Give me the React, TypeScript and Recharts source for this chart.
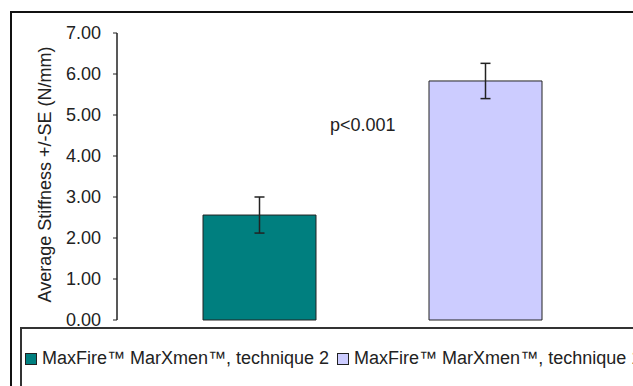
import React from 'react';
import { BarChart, Bar, XAxis, YAxis, ErrorBar } from 'recharts';

const seriesNames = ['MaxFire™ MarXmen™, technique 2', 'MaxFire™ MarXmen™, technique 1'];
const seriesKeys = ['t2', 't1'];
const means = [2.56, 5.83];
const stdErrors = [0.44, 0.43];
const yTicks = [0, 1, 2, 3, 4, 5, 6, 7];
const colors = ['#007f7f', '#ccccff'];

const FONT = '"Liberation Sans", Arial, sans-serif';

// single category, one bar per series
const row: Record<string, number | string> = { name: '' };
seriesKeys.forEach((k, i) => {
  row[k] = means[i];
  row[k + 'Err'] = stdErrors[i];
});
const chartData = [row];

const YLabel = ({ viewBox }: any) => {
  const cx = viewBox.x - 12;
  const cy = viewBox.y + viewBox.height / 2 - 2;
  return (
    <text
      x={cx}
      y={cy}
      transform={`rotate(-90 ${cx} ${cy})`}
      textAnchor="middle"
      dominantBaseline="central"
      fill="#222"
      fontSize={18}
      fontFamily={FONT}
    >
      Average Stiffness +/-SE (N/mm)
    </text>
  );
};

export default function App() {
  return (
    <div style={{ position: 'absolute', left: 0, top: 0, width: 633, height: 386, overflow: 'hidden', background: '#fff', fontFamily: FONT }}>
      <div style={{ position: 'absolute', left: 10, top: 11, width: 700, height: 420, border: '2px solid #111' }} />
      <BarChart
        width={633}
        height={386}
        data={chartData}
        margin={{ top: 33, right: 5, left: 57, bottom: 66 }}
        barSize={113}
        barGap={113}
        style={{ position: 'absolute', left: 0, top: 0 }}
      >
        <XAxis dataKey="name" tick={false} tickLine={false} height={0} axisLine={{ stroke: '#222', strokeWidth: 1.5 }} />
        <YAxis
          width={60}
          domain={[0, 7]}
          ticks={yTicks}
          interval={0}
          tickFormatter={(v: number) => v.toFixed(2)}
          tickSize={4}
          tickMargin={12}
          tick={{ fill: '#222', fontSize: 18, fontFamily: FONT }}
          tickLine={{ stroke: '#222' }}
          axisLine={{ stroke: '#222', strokeWidth: 1.5 }}
          label={<YLabel />}
        />
        {seriesKeys.map((k, i) => (
          <Bar key={k} dataKey={k} name={seriesNames[i]} fill={colors[i]} stroke="#222" strokeWidth={1} isAnimationActive={false}>
            <ErrorBar dataKey={k + 'Err'} width={5} stroke="#222" strokeWidth={1.5} direction="y" />
          </Bar>
        ))}
      </BarChart>
      <div style={{ position: 'absolute', left: 330, top: 114, fontSize: 18, color: '#222', lineHeight: '22px' }}>p&lt;0.001</div>
      <div
        style={{
          position: 'absolute',
          left: 20,
          top: 327,
          width: 700,
          height: 100,
          border: '2px solid #333',
          background: '#fff',
        }}
      >
        <div style={{ position: 'absolute', left: 3, top: 19, display: 'flex', alignItems: 'center', whiteSpace: 'nowrap', fontSize: 18, color: '#222' }}>
          {seriesNames.map((n, i) => (
            <span key={n} style={{ display: 'flex', alignItems: 'center', marginRight: 8 }}>
              <span style={{ width: 10, height: 10, background: colors[i], border: '1px solid #222', marginRight: 5 }} />
              <span>{n}</span>
            </span>
          ))}
        </div>
      </div>
    </div>
  );
}
